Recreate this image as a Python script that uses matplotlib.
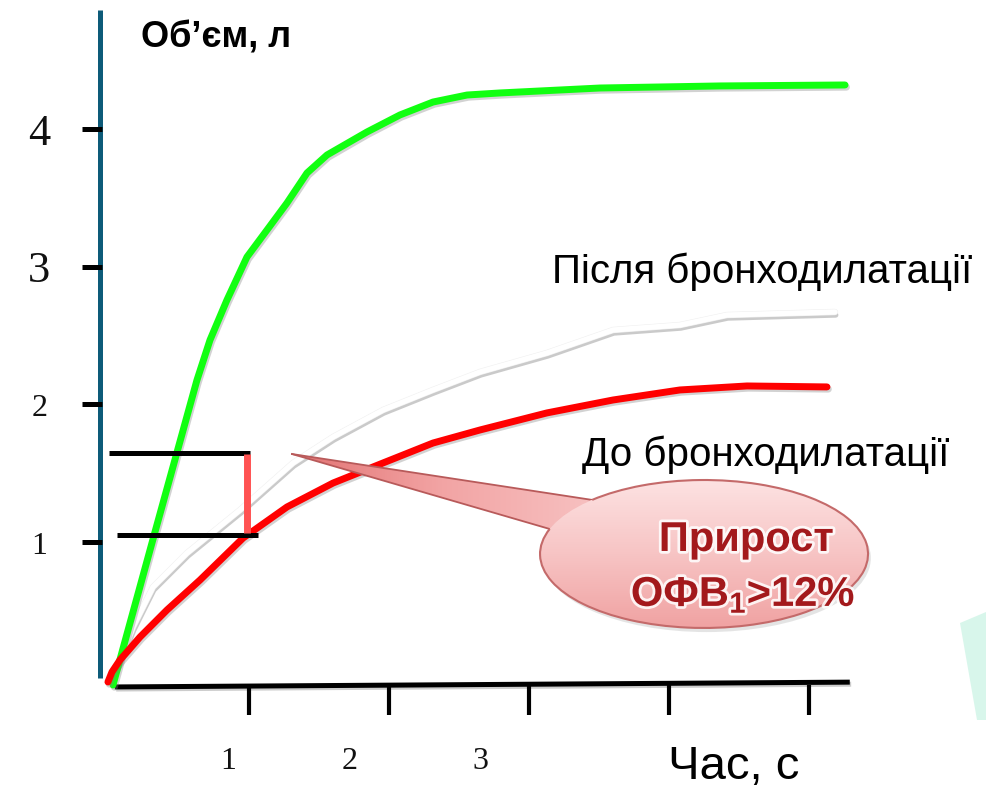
import matplotlib
matplotlib.use('Agg')
import numpy as np
import matplotlib.pyplot as plt
from matplotlib.patches import Ellipse, Polygon, Arc
from matplotlib.colors import LinearSegmentedColormap
import matplotlib.patheffects as pe

plt.rcParams['mathtext.fontset'] = 'custom'
plt.rcParams['mathtext.rm'] = 'Liberation Sans'
plt.rcParams['mathtext.bf'] = 'Liberation Sans:bold'

# ---------------- data ----------------
x_ticks = [1, 2, 3, 4, 5]
x_tick_labels = ['1', '2', '3']
x_label_pos = [0.85, 1.72, 2.65]
y_ticks = [1, 2, 3, 4]
y_tick_labels = ['1', '2', '3', '4']
y_label_sizes = [23, 23, 32, 32]

t_green = [0.027, 0.327, 0.627, 0.72, 0.841, 0.984, 1.127, 1.27, 1.413, 1.556, 1.841,
           2.077, 2.313, 2.556, 2.791, 3.506, 4.363, 5.256]
v_green = [-0.041, 1.072, 2.177, 2.468, 2.759, 3.072, 3.268, 3.465, 3.683, 3.814, 3.981,
           4.105, 4.199, 4.25, 4.265, 4.301, 4.316, 4.323]

t_after = [0.02, 0.17, 0.313, 0.556, 0.934, 1.313, 1.599, 1.956, 2.313, 2.649, 3.127, 3.599,
           4.077, 4.413, 5.184]
v_after = [0.0, 0.381, 0.672, 0.919, 1.232, 1.574, 1.763, 1.959, 2.105, 2.236, 2.374, 2.541,
           2.577, 2.65, 2.672]

t_before = [-0.009, 0.02, 0.077, 0.22, 0.413, 0.649, 0.956, 1.27, 1.599, 1.956, 2.313, 2.649,
            3.127, 3.599, 4.077, 4.556, 5.127]
v_before = [-0.019, 0.054, 0.141, 0.308, 0.505, 0.723, 1.028, 1.254, 1.428, 1.574, 1.719, 1.814,
            1.938, 2.032, 2.105, 2.134, 2.127]

fev1_after = 1.647
fev1_before = 1.05

# ---------------- figure ----------------
fig = plt.figure(figsize=(9.86, 7.92), dpi=100)
ax = fig.add_axes([0, 0, 1, 1])
ax.set_xlim(-0.78, 6.263)
ax.set_ylim(-0.819, 4.941)
ax.axis('off')

# mint decoration at bottom-right
mint = Polygon([(960/986, 1-623/792), (1.0, 1-612/792), (1.0, 1-720/792), (977/986, 1-720/792)],
               closed=True, transform=ax.transAxes, facecolor='#c8f3e3', edgecolor='none', alpha=0.7, zorder=0)
ax.add_patch(mint)

# vertical teal axis
ax.plot([-0.066, -0.066], [0.01, 4.868], color='#0d5b79', lw=3.6, solid_capstyle='butt', zorder=2)
ax.hlines(y_ticks, -0.194, -0.051, color='black', lw=3.6, zorder=3)
for yv, lab, fs in zip(y_ticks, y_tick_labels, y_label_sizes):
    ax.text(-0.5, yv - 0.03, lab, fontsize=fs, family='Liberation Serif', ha='center', va='center', color='#111111')

# horizontal axis
ax.plot([0.04, 5.29], [-0.055, -0.02], color='black', lw=3.6, solid_capstyle='butt', zorder=3,
        path_effects=[pe.SimpleLineShadow(offset=(1, -1.5), shadow_color='gray', alpha=0.4), pe.Normal()])
ax.vlines(x_ticks, -0.26, -0.04, color='black', lw=3.0, zorder=3)
for xp, lab in zip(x_label_pos, x_tick_labels):
    ax.text(xp, -0.60, lab, fontsize=23, family='Liberation Serif', ha='center', va='center', color='#111111')
ax.text(4.463, -0.64, 'Час, с', fontsize=34, family='Liberation Sans', ha='center', va='center')
ax.text(0.766, 4.665, 'Об’єм, л', fontsize=26, family='Liberation Sans', fontweight='bold', ha='center', va='center')

# curves
shadow = [pe.SimpleLineShadow(offset=(1.0, -1.6), shadow_color='gray', alpha=0.35), pe.Normal()]
ax.plot(t_after, v_after, color='white', lw=3.8, solid_capstyle='round', solid_joinstyle='round', zorder=4,
        path_effects=[pe.SimpleLineShadow(offset=(0.6, -2.2), shadow_color='#8a8a8a', alpha=0.45),
                      pe.Stroke(linewidth=4.6, foreground='#f0f0f0'), pe.Normal()])
ax.plot(t_green, v_green, color='#11ff11', lw=5.0, solid_capstyle='round', solid_joinstyle='round', zorder=5,
        path_effects=shadow)
ax.plot(t_before, v_before, color='#ff0000', lw=5.0, solid_capstyle='round', solid_joinstyle='round', zorder=5,
        path_effects=shadow)

# FEV1 markers
ax.plot([0.0, 1.006], [fev1_after, fev1_after], color='black', lw=3.6, solid_capstyle='butt', zorder=6)
ax.plot([0.056, 1.063], [fev1_before, fev1_before], color='black', lw=3.6, solid_capstyle='butt', zorder=6)
ax.plot([0.986, 0.986], [fev1_before + 0.015, fev1_after - 0.01], color='#ff5252', lw=5.0,
        solid_capstyle='butt', zorder=6)

# labels for curves
ax.text(4.663, 2.963, 'Після бронходилатації', fontsize=29, family='Liberation Sans', ha='center', va='center')
ax.text(4.691, 1.632, 'До бронходилатації', fontsize=29, family='Liberation Sans', ha='center', va='center')

# callout bubble
ecx, ecy, ew, eh = 4.249, 0.912, 2.343, 1.076
ell_shadow = Ellipse((ecx + 0.02, ecy - 0.03), ew, eh, facecolor='#888888', alpha=0.22, edgecolor='none', zorder=6)
ax.add_patch(ell_shadow)

tip = (1.306, 1.639)
b1 = (3.451, 1.305)
b2 = (3.146, 1.094)
wedge = Polygon([tip, b1, (3.62, 1.16), (3.291, 0.978), b2], closed=True, facecolor='#f6b8b8',
                edgecolor='none', zorder=6.5)
ax.add_patch(wedge)
cm_w = LinearSegmentedColormap.from_list('w', ['#e27272', '#f2a4a4', '#f7c0c0'])
gradw = np.linspace(0, 1, 256).reshape(1, -1)
imw = ax.imshow(gradw, cmap=cm_w, extent=(1.3, 3.45, 0.95, 1.7), origin='lower', aspect='auto', zorder=6.6)
imw.set_clip_path(wedge)
ax.plot([tip[0], b1[0]], [tip[1], b1[1]], color='#b85a5a', lw=1.3, zorder=6.7)
ax.plot([tip[0], b2[0]], [tip[1], b2[1]], color='#b85a5a', lw=1.3, zorder=6.7)

ell = Ellipse((ecx, ecy), ew, eh, facecolor='#f6b8b8', edgecolor='none', zorder=7)
ax.add_patch(ell)
grad = np.linspace(0, 1, 256).reshape(-1, 1)
cm_b = LinearSegmentedColormap.from_list('b', ['#f0a2a2', '#f7c4c4', '#fde2e2'])
im = ax.imshow(grad, cmap=cm_b, extent=(ecx - ew/2, ecx + ew/2, ecy - eh/2, ecy + eh/2),
               origin='lower', aspect='auto', zorder=7.1)
im.set_clip_path(ell)
ang1 = np.degrees(np.arctan2(b1[1] - ecy, b1[0] - ecx))
ang2 = np.degrees(np.arctan2(b2[1] - ecy, b2[0] - ecx))
ell_edge = Arc((ecx, ecy), ew, eh, theta1=ang2, theta2=ang1 + 360, edgecolor='#c46a6a', lw=1.5, zorder=7.2)
ax.add_patch(ell_edge)

txt_eff = [pe.withStroke(linewidth=4, foreground='white', alpha=0.85)]
ax.text(4.549, 1.014, 'Прирост', fontsize=30, family='Liberation Sans', fontweight='bold', color='#a3191c',
        ha='center', va='center', zorder=8, path_effects=txt_eff)
ax.text(4.527, 0.614, r'ОФВ$_\mathbf{1}$>12%', fontsize=30, family='Liberation Sans', fontweight='bold',
        color='#a3191c', ha='center', va='center', zorder=8, path_effects=txt_eff)

fig.savefig('out.png', dpi=100)
